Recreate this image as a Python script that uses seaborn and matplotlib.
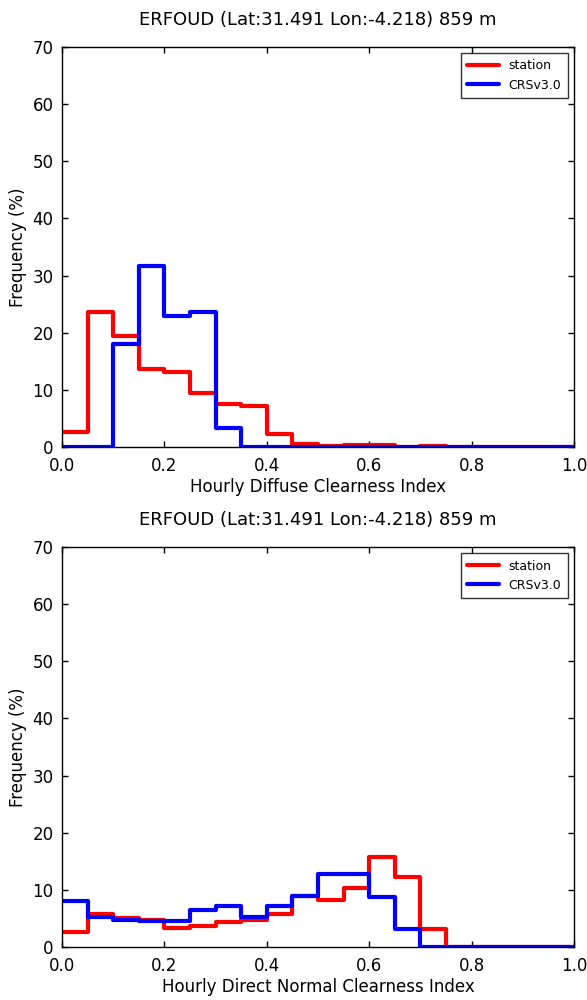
import pandas as pd
import matplotlib
matplotlib.use("Agg")
import matplotlib.pyplot as plt
import seaborn as sns

# station header
title = "ERFOUD (Lat:31.491 Lon:-4.218) 859 m"

# 20 bins of width 0.05 between 0 and 1
bin_edges = [round(0.05 * i, 2) for i in range(21)]
bin_centers = [round(0.05 * i + 0.025, 3) for i in range(20)]

# frequencies (%)
diffuse_station = [2.6, 23.6, 19.4, 13.6, 13.1, 9.5, 7.6, 7.1, 2.2, 0.5,
                   0.2, 0.4, 0.3, 0.05, 0.2, 0.0, 0.0, 0.0, 0.0, 0.0]
diffuse_crs = [0.0, 0.0, 18.1, 31.6, 23.0, 23.6, 3.4, 0.0, 0.0, 0.0,
               0.0, 0.0, 0.0, 0.0, 0.0, 0.0, 0.0, 0.0, 0.0, 0.0]
dni_station = [2.6, 5.7, 5.1, 4.8, 3.4, 3.7, 4.3, 4.7, 5.7, 9.0,
               8.3, 10.3, 15.8, 12.3, 3.2, 0.0, 0.0, 0.0, 0.0, 0.0]
dni_crs = [8.1, 5.2, 4.7, 4.6, 4.6, 6.5, 7.1, 5.3, 7.2, 8.9,
           12.8, 12.8, 8.8, 3.1, 0.0, 0.0, 0.0, 0.0, 0.0, 0.0]

panels = [
    ("Hourly Diffuse Clearness Index", diffuse_station, diffuse_crs),
    ("Hourly Direct Normal Clearness Index", dni_station, dni_crs),
]

sns.set_style("white")
plt.rcParams.update({
    "font.family": ["DejaVu Sans"],
    "text.color": "black",
    "axes.labelcolor": "black",
    "xtick.color": "black",
    "ytick.color": "black",
    "xtick.direction": "in",
    "ytick.direction": "in",
    "xtick.top": True,
    "ytick.right": True,
    "xtick.bottom": True,
    "ytick.left": True,
    "xtick.major.size": 4,
    "ytick.major.size": 4,
    "xtick.major.pad": 7,
    "ytick.major.pad": 6,
    "axes.edgecolor": "black",
    "axes.linewidth": 1.0,
})

fig = plt.figure(figsize=(5.87, 10.0), dpi=100)
ax_top = fig.add_axes([0.1056, 0.553, 0.8722, 0.400])
ax_bot = fig.add_axes([0.1056, 0.053, 0.8722, 0.400])

for ax, (xlabel, station, crs) in zip([ax_top, ax_bot], panels):
    for freq, color, name in [(station, "red", "station"), (crs, "blue", "CRSv3.0")]:
        df = pd.DataFrame({"k": bin_centers, "freq": freq})
        sns.histplot(data=df, x="k", weights="freq", bins=bin_edges,
                     element="step", fill=False, color=color, linewidth=3,
                     label=name, ax=ax)
    ax.set_xlim(0, 1)
    ax.set_ylim(0, 70)
    ax.set_xticks([0.0, 0.2, 0.4, 0.6, 0.8, 1.0])
    ax.set_yticks(range(0, 71, 10))
    ax.tick_params(labelsize=12, colors="black", width=1)
    ax.set_xlabel(xlabel, fontsize=12, labelpad=2)
    ax.set_ylabel("Frequency (%)", fontsize=12)
    ax.set_title(title, fontsize=13, pad=16)
    for s in ax.spines.values():
        s.set_visible(True)
        s.set_color("black")
    leg = ax.legend(loc="upper right", fontsize=9, fancybox=False,
                    frameon=True, handlelength=2.5, borderpad=0.5)
    leg.get_frame().set_edgecolor("black")
    leg.get_frame().set_linewidth(1.0)

fig.savefig("out.png", dpi=100, facecolor="white")
